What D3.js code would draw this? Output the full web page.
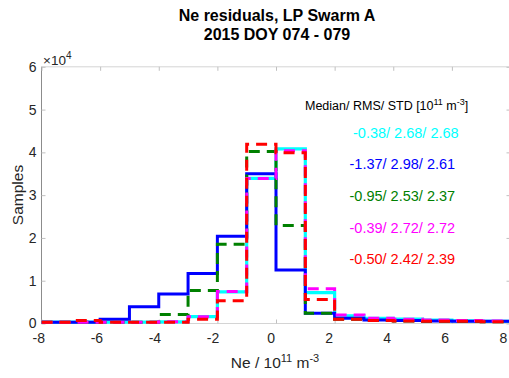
<!DOCTYPE html>
<html>
<head>
<meta charset="utf-8">
<script src="https://cdn.jsdelivr.net/npm/d3@7"></script>
<style>
  html, body { margin: 0; padding: 0; background: #fff; }
  svg { display: block; font-family: "Liberation Sans", Arial, sans-serif; }
</style>
</head>
<body>
<svg id="chart" width="509" height="378"></svg>
<script>
// ---- data (counts in units of 1e4) ----
const binEdges = [-8, -7, -6, -5, -4, -3, -2, -1, 0, 1, 2, 3, 4, 5, 6, 7, 8];
const cyanVals    = [0.03, 0.03, 0.03, 0.03, 0.04, 0.16, 0.74, 3.39, 4.08, 0.72, 0.18, 0.12, 0.10, 0.08, 0.06, 0.05];
const blueVals    = [0.03, 0.03, 0.10, 0.39, 0.69, 1.17, 2.04, 3.50, 1.25, 0.24, 0.12, 0.08, 0.07, 0.06, 0.05, 0.05];
const greenVals   = [0.03, 0.03, 0.03, 0.03, 0.21, 0.77, 1.85, 4.02, 2.29, 0.24, 0.10, 0.07, 0.06, 0.05, 0.05, 0.04];
const magentaVals = [0.03, 0.03, 0.03, 0.03, 0.04, 0.16, 0.75, 3.39, 4.04, 0.81, 0.20, 0.12, 0.10, 0.08, 0.07, 0.06];
const redVals     = [0.03, 0.07, 0.03, 0.03, 0.03, 0.10, 0.53, 4.19, 3.99, 0.56, 0.10, 0.07, 0.06, 0.05, 0.05, 0.04];
const seriesNames = ["cyan", "blue", "green", "magenta", "red"];
const seriesStats = ["-0.38/ 2.68/ 2.68", "-1.37/ 2.98/ 2.61", "-0.95/ 2.53/ 2.37", "-0.39/ 2.72/ 2.72", "-0.50/ 2.42/ 2.39"];
const xTicks = [-8, -6, -4, -2, 0, 2, 4, 6, 8];
const yTicks = [0, 1, 2, 3, 4, 5, 6];

const seriesVals = [cyanVals, blueVals, greenVals, magentaVals, redVals];
const colors = { cyan: "#00ffff", blue: "#0000ff", green: "#008000", magenta: "#ff00ff", red: "#ff0000" };
const dashes = { cyan: null, blue: null, green: "11,7", magenta: "11,7", red: "11,7" };
const widths = { cyan: 3.2, blue: 3, green: 3, magenta: 3, red: 3 };

const svg = d3.select("#chart");
const L = 41.5, R = 510.5, T = 66.8, B = 323.5;
const x = d3.scaleLinear().domain([-8, 8]).range([L, R]);
const y = d3.scaleLinear().domain([0, 6]).range([B, T]);

// frame
svg.append("line").attr("x1", L).attr("x2", R).attr("y1", T).attr("y2", T).attr("stroke", "#d4d4d4");
svg.append("line").attr("x1", L).attr("x2", R).attr("y1", B).attr("y2", B).attr("stroke", "#d4d4d4");
svg.append("line").attr("x1", L).attr("x2", L).attr("y1", T).attr("y2", B + 0.5).attr("stroke", "#8c8c8c");

const tickCol = "#c0c0c0";
// top ticks
const gTop = svg.append("g").attr("transform", `translate(0,${T})`)
  .call(d3.axisTop(x).tickValues(xTicks).tickSizeInner(-4).tickSizeOuter(0).tickFormat(""));
gTop.select(".domain").remove();
gTop.selectAll("line").attr("stroke", tickCol);
// right ticks
const gRight = svg.append("g").attr("transform", `translate(${R},0)`)
  .call(d3.axisRight(y).tickValues(yTicks).tickSizeInner(-4).tickSizeOuter(0).tickFormat(""));
gRight.select(".domain").remove();
gRight.selectAll("line").attr("stroke", tickCol);

// bottom axis
const gx = svg.append("g").attr("transform", `translate(0,${B})`)
  .call(d3.axisBottom(x).tickValues(xTicks).tickSizeInner(-4).tickSizeOuter(0).tickPadding(10).tickFormat(d3.format("d")));
gx.select(".domain").remove();
gx.selectAll("line").attr("stroke", tickCol);
gx.selectAll("text").attr("font-size", 14).attr("fill", "#262626")
  .attr("font-family", "Liberation Sans, Arial, sans-serif")
  .attr("dx", d => -3.2 - (d + 8) / 16 * 4.5)
  .text(d => (d < 0 ? "-" : "") + Math.abs(d));

// left axis
const gy = svg.append("g").attr("transform", `translate(${L},0)`)
  .call(d3.axisLeft(y).tickValues(yTicks).tickSizeInner(-4).tickSizeOuter(0).tickPadding(5).tickFormat(d3.format("d")));
gy.select(".domain").remove();
gy.selectAll("line").attr("stroke", tickCol);
gy.selectAll("text").attr("font-size", 14).attr("fill", "#262626")
  .attr("font-family", "Liberation Sans, Arial, sans-serif");

// exponent label
const ex = svg.append("text").attr("x", 43).attr("y", 65).attr("font-size", 13.5).attr("fill", "#262626");
ex.append("tspan").text("\u00d710");
ex.append("tspan").attr("dy", -6).attr("font-size", 10).text("4");

// stairs
const clip = svg.append("clipPath").attr("id", "clip").append("rect")
  .attr("x", L).attr("y", T - 5).attr("width", R - L).attr("height", B - T + 10);
const plot = svg.append("g").attr("clip-path", "url(#clip)");

function stairs(vals) {
  const pts = [];
  vals.forEach((v, i) => {
    pts.push([x(binEdges[i]), y(v)]);
    pts.push([x(binEdges[i + 1]), y(v)]);
  });
  return d3.line()(pts);
}
seriesNames.forEach((name, i) => {
  plot.append("path")
    .attr("d", stairs(seriesVals[i]))
    .attr("fill", "none")
    .attr("stroke", colors[name])
    .attr("stroke-width", widths[name])
    .attr("stroke-dasharray", dashes[name])
    .attr("stroke-linejoin", "miter");
});

// title
svg.append("text").attr("x", 277).attr("y", 21).attr("text-anchor", "middle")
  .attr("font-size", 16).attr("font-weight", "bold").attr("fill", "#000").text("Ne residuals, LP Swarm A");
svg.append("text").attr("x", 277).attr("y", 40).attr("text-anchor", "middle")
  .attr("font-size", 16).attr("font-weight", "bold").attr("fill", "#000").text("2015 DOY 074 - 079");

// axis labels
const xl = svg.append("text").attr("x", 275).attr("y", 368).attr("text-anchor", "middle")
  .attr("font-size", 15.5).attr("fill", "#262626");
xl.append("tspan").text("Ne / 10");
xl.append("tspan").attr("dy", -6).attr("font-size", 11).text("11");
xl.append("tspan").attr("dy", 6).text(" m");
xl.append("tspan").attr("dy", -6).attr("font-size", 11).text("-3");

svg.append("text").attr("transform", `translate(23,195) rotate(-90)`).attr("text-anchor", "middle")
  .attr("font-size", 15.5).attr("fill", "#262626").text("Samples");

// stats legend
const hd = svg.append("text").attr("x", 305).attr("y", 110).attr("font-size", 12.5).attr("fill", "#000");
hd.append("tspan").text("Median/ RMS/ STD [10");
hd.append("tspan").attr("dy", -5).attr("font-size", 9).text("11");
hd.append("tspan").attr("dy", 5).text(" m");
hd.append("tspan").attr("dy", -5).attr("font-size", 9).text("-3");
hd.append("tspan").attr("dy", 5).text("]");

const statY = [137.5, 168.5, 200.5, 233, 263.5];
const statX = [353, 349.5, 349.5, 349.5, 349.5];
seriesNames.forEach((name, i) => {
  svg.append("text").attr("x", statX[i]).attr("y", statY[i]).attr("font-size", 14.5)
    .attr("fill", colors[name]).text(seriesStats[i]);
});
</script>
</body>
</html>
